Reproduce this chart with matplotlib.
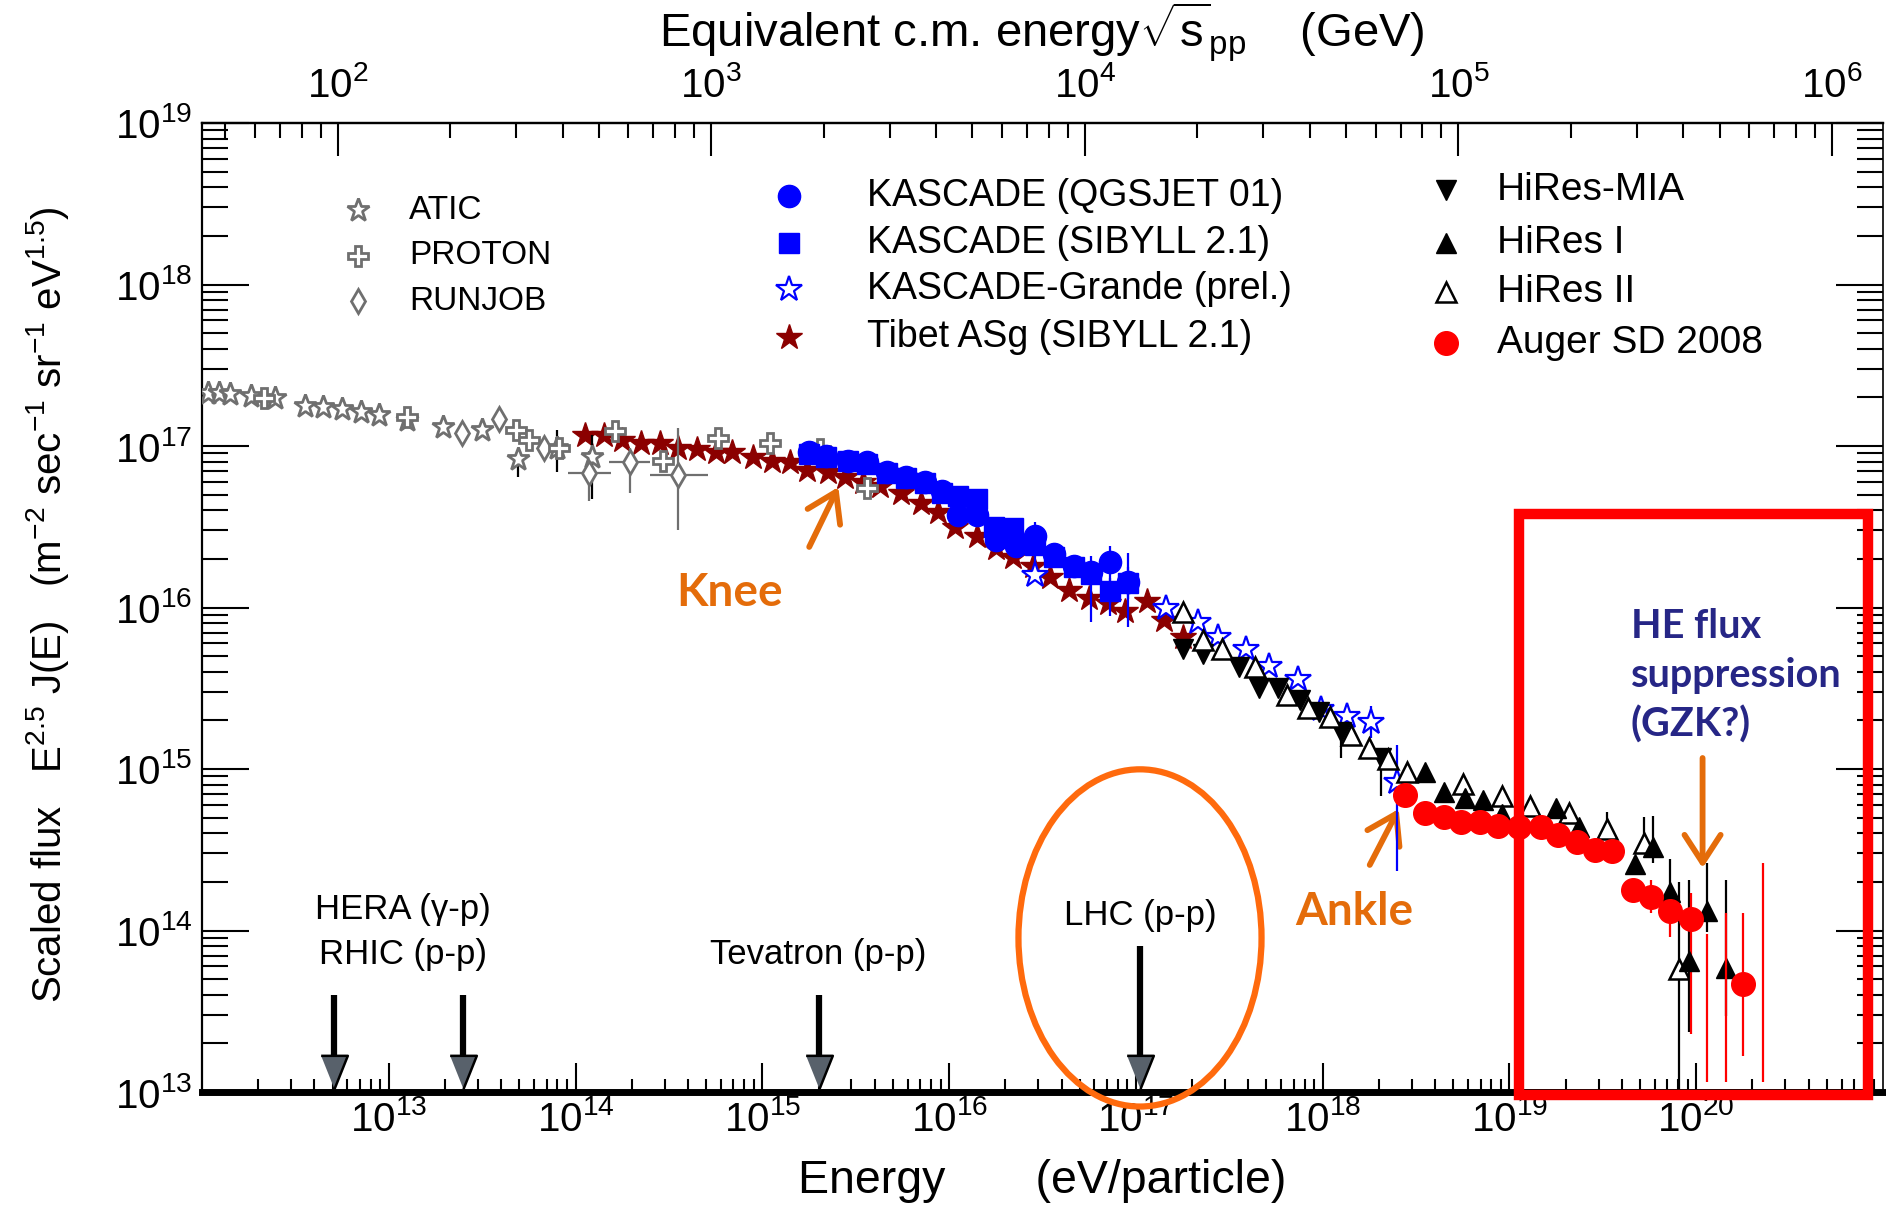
import numpy as np
import matplotlib
matplotlib.use("Agg")
import matplotlib.pyplot as plt
from matplotlib.patches import Ellipse, Rectangle
from matplotlib.ticker import NullFormatter, FixedLocator

plt.rcParams['font.family'] = ['Liberation Sans', 'DejaVu Sans']
plt.rcParams['mathtext.fontset'] = 'custom'
plt.rcParams['mathtext.rm'] = 'Liberation Sans'
plt.rcParams['mathtext.it'] = 'Liberation Sans:italic'
plt.rcParams['mathtext.bf'] = 'Liberation Sans:bold'
plt.rcParams['mathtext.default'] = 'regular'

# ---- values: log10(E / eV) and log10(E^2.5 J(E)) ----
atic_logE = [12.03, 12.09, 12.15, 12.26, 12.39, 12.55, 12.65, 12.75, 12.85, 12.95, 13.10, 13.29, 13.50, 13.69, 13.90, 14.09]
atic_logF = [17.33, 17.33, 17.32, 17.31, 17.30, 17.25, 17.24, 17.23, 17.21, 17.19, 17.16, 17.12, 17.10, 16.92, 16.99, 16.93]
atic_elo = [0] * 12 + [0.03, 0.11, 0.15, 0.26]
atic_ehi = [0] * 12 + [0.03, 0.00, 0.11, 0.14]

proton_logE = [12.33, 13.10, 13.68, 13.75, 13.91, 14.21, 14.47, 14.76, 15.04, 15.31, 15.56]
proton_logF = [17.30, 17.18, 17.10, 17.04, 16.99, 17.09, 16.91, 17.05, 17.02, 16.98, 16.74]

runjob_logE = [13.39, 13.59, 13.83, 14.07, 14.29, 14.55]
runjob_logF = [17.08, 17.17, 16.99, 16.83, 16.90, 16.82]
runjob_elo = [0, 0, 0.06, 0.17, 0.19, 0.34]
runjob_ehi = [0, 0, 0.05, 0.14, 0.09, 0.29]
runjob_xlo = [0, 0, 0, 0.11, 0.11, 0.15]
runjob_xhi = [0, 0, 0, 0.12, 0.11, 0.16]

tibet_logE = [14.05, 14.15, 14.25, 14.35, 14.45, 14.55, 14.65, 14.75, 14.84, 14.95, 15.05,
              15.15, 15.24, 15.35, 15.44, 15.54, 15.63, 15.74, 15.85, 15.94, 16.03, 16.15,
              16.25, 16.34, 16.45, 16.54, 16.64, 16.75, 16.85, 16.94, 17.06, 17.15, 17.25]
tibet_logF = [17.07, 17.07, 17.04, 17.02, 17.02, 16.99, 16.98, 16.96, 16.96, 16.93, 16.91,
              16.90, 16.85, 16.84, 16.81, 16.78, 16.75, 16.71, 16.65, 16.59, 16.50, 16.44,
              16.37, 16.31, 16.26, 16.19, 16.11, 16.06, 16.03, 15.98, 16.04, 15.92, 15.82]

kq_logE = [15.25, 15.34, 15.46, 15.56, 15.67, 15.77, 15.87, 15.96, 16.05, 16.15, 16.25, 16.36,
           16.46, 16.56, 16.67, 16.76, 16.86, 16.96]
kq_logF = [16.96, 16.94, 16.91, 16.90, 16.84, 16.81, 16.78, 16.72, 16.57, 16.57, 16.42, 16.38,
           16.44, 16.33, 16.26, 16.22, 16.28, 16.16]
kq_elo = [0.02] * 12 + [0.20, 0.05, 0.06, 0.31, 0.33, 0.28]
kq_ehi = [0.02] * 12 + [0.09, 0.05, 0.06, 0.10, 0.10, 0.18]

ks_logE = [15.25, 15.34, 15.46, 15.56, 15.67, 15.77, 15.87, 15.96, 16.05, 16.15, 16.24, 16.34,
           16.46, 16.56, 16.67, 16.76, 16.86, 16.96]
ks_logF = [16.95, 16.93, 16.91, 16.89, 16.83, 16.80, 16.77, 16.71, 16.69, 16.67, 16.50, 16.49,
           16.39, 16.31, 16.25, 16.21, 16.10, 16.15]
ks_elo = [0.02] * 13 + [0.04, 0.05, 0.06, 0.08, 0.10]
ks_ehi = [0.02] * 13 + [0.04, 0.05, 0.06, 0.08, 0.10]

kg_logE = [16.46, 17.16, 17.33, 17.44, 17.59, 17.71, 17.87, 17.99, 18.13, 18.26, 18.40]
kg_logF = [16.20, 16.00, 15.91, 15.82, 15.74, 15.64, 15.56, 15.37, 15.33, 15.29, 14.92]
kg_elo = [0.03] * 9 + [0.10, 0.55]
kg_ehi = [0.03] * 9 + [0.10, 0.23]

mia_logE = [17.25, 17.36, 17.55, 17.66, 17.76, 17.88, 17.98, 18.10, 18.31]
mia_logF = [15.74, 15.71, 15.63, 15.50, 15.50, 15.43, 15.35, 15.23, 15.07]
mia_elo = [0.03] * 7 + [0.16, 0.24]
mia_ehi = [0.03] * 7 + [0.03, 0.04]

h1_logE = [18.55, 18.65, 18.76, 18.86, 18.96, 19.25, 19.37, 19.67, 19.77, 19.86, 19.96, 20.06, 20.16]
h1_logF = [14.98, 14.86, 14.82, 14.81, 14.72, 14.76, 14.64, 14.41, 14.52, 14.24, 13.81, 14.12, 13.77]
h1_elo = [0.02] * 7 + [0.05, 0.10, 0.10, 0.44, 0.13, 0.30]
h1_ehi = [0.02] * 7 + [0.05, 0.19, 0.20, 0.50, 0.30, 0.54]

h2_logE = [17.25, 17.36, 17.46, 17.64, 17.81, 17.92, 18.04, 18.15, 18.25, 18.35, 18.45, 18.75,
           18.96, 19.11, 19.32, 19.52, 19.72, 19.91]
h2_logF = [15.97, 15.80, 15.74, 15.63, 15.46, 15.38, 15.32, 15.21, 15.13, 15.06, 14.98, 14.91,
           14.83, 14.77, 14.73, 14.63, 14.54, 13.76]
h2_elo = [0.02] * 15 + [0.07, 0.06, 0.80]
h2_ehi = [0.02] * 15 + [0.105, 0.16, 0.54]

auger_logE = [18.44, 18.55, 18.65, 18.74, 18.84, 18.94, 19.05, 19.17, 19.26, 19.36, 19.46, 19.55,
              19.66, 19.76, 19.86, 19.97, 20.25]
auger_logF = [14.84, 14.73, 14.70, 14.67, 14.67, 14.65, 14.64, 14.64, 14.59, 14.55, 14.50, 14.49,
              14.25, 14.21, 14.12, 14.07, 13.67]
auger_elo = [0] * 12 + [0.05, 0.10, 0.16, 0.71, 0.45]
auger_ehi = [0] * 12 + [0.05, 0.10, 0.07, 0.16, 0.44]
# Auger bins with error bars only
auger_bar_logE = [20.06, 20.16, 20.36]
auger_bar_lo = [13.06, 13.06, 13.06]
auger_bar_hi = [13.98, 14.11, 14.42]

acc_names = ['HERA (γ-p)', 'RHIC (p-p)', 'Tevatron (p-p)', 'LHC (p-p)']
acc_E = [5.1e12, 2.5e13, 2.0e15, 1.05e17]

M_P = 0.938e9  # proton mass, eV

fig = plt.figure(figsize=(18.86, 12.05), dpi=100)
ax = fig.add_axes([202 / 1886, 113 / 1205, 1681 / 1886, 969 / 1205])
ax.set_xscale('log')
ax.set_yscale('log')
ax.set_xlim(1e12, 1e21)
ax.set_ylim(1e13, 1e19)


def series(logE, logF, style, elo=None, ehi=None, xlo=None, xhi=None, ecolor='k', z=3):
    E = 10 ** np.asarray(logE, float)
    F = 10 ** np.asarray(logF, float)
    if elo is not None:
        yerr = [F - F / 10 ** np.asarray(elo), F * 10 ** np.asarray(ehi) - F]
        xerr = None
        if xlo is not None:
            xerr = [E - E / 10 ** np.asarray(xlo), E * 10 ** np.asarray(xhi) - E]
        ax.errorbar(E, F, yerr=yerr, xerr=xerr, fmt='none', ecolor=ecolor,
                    elinewidth=1.6, capsize=0, zorder=z - 0.1)
    ax.plot(E, F, ls='none', zorder=z, **style)


gray = '#6F6F6F'
dred = '#8B0000'
atic_st = dict(marker='*', ms=17, mfc='white', mec=gray, mew=2)
proton_st = dict(marker='P', ms=15, mfc='white', mec=gray, mew=2)
runjob_st = dict(marker='d', ms=12, mfc='white', mec=gray, mew=2)
tibet_st = dict(marker='*', ms=19, color=dred, mec=dred)
kq_st = dict(marker='o', ms=16, color='blue', mec='blue')
ks_st = dict(marker='s', ms=14, color='blue', mec='blue')
kg_st = dict(marker='*', ms=19, mfc='white', mec='blue', mew=1.6)
mia_st = dict(marker='v', ms=14, color='black')
h1_st = dict(marker='^', ms=14, color='black')
h2_st = dict(marker='^', ms=14, mfc='white', mec='black', mew=1.8)
auger_st = dict(marker='o', ms=17, color='red', mec='red')

series(tibet_logE, tibet_logF, tibet_st, z=3)
series(atic_logE, atic_logF, atic_st, atic_elo, atic_ehi, z=3.2)
series(runjob_logE, runjob_logF, runjob_st, runjob_elo, runjob_ehi, runjob_xlo, runjob_xhi, ecolor=gray, z=3.3)
series(proton_logE, proton_logF, proton_st, z=3.4)
series(kq_logE, kq_logF, kq_st, kq_elo, kq_ehi, ecolor='blue', z=3.5)
series(ks_logE, ks_logF, ks_st, ks_elo, ks_ehi, ecolor='blue', z=3.6)
series(kg_logE, kg_logF, kg_st, kg_elo, kg_ehi, ecolor='blue', z=3.7)
series(mia_logE, mia_logF, mia_st, mia_elo, mia_ehi, z=3.8)
series(h2_logE, h2_logF, h2_st, h2_elo, h2_ehi, z=3.9)
series(h1_logE, h1_logF, h1_st, h1_elo, h1_ehi, z=4.0)
ax.vlines(10 ** np.array(auger_bar_logE), 10 ** np.array(auger_bar_lo), 10 ** np.array(auger_bar_hi),
          color='red', lw=1.6, zorder=4.05)
series(auger_logE, auger_logF, auger_st, auger_elo, auger_ehi, ecolor='red', z=4.1)

# legend, drawn by hand in three columns
legend_cols = [
    (0.0928, 0.1231, 24, [('ATIC', atic_st, 0.910), ('PROTON', proton_st, 0.863),
                          ('RUNJOB', runjob_st, 0.816)]),
    (0.3492, 0.3956, 27, [('KASCADE (QGSJET 01)', kq_st, 0.9247), ('KASCADE (SIBYLL 2.1)', ks_st, 0.8762),
                          ('KASCADE-Grande (prel.)', kg_st, 0.8287), ('Tibet ASg (SIBYLL 2.1)', tibet_st, 0.7792)]),
    (0.7400, 0.7704, 28, [('HiRes-MIA', mia_st, 0.9309), ('HiRes I', h1_st, 0.8762),
                          ('HiRes II', h2_st, 0.8256), ('Auger SD 2008', auger_st, 0.7730)]),
]
for mx, tx, fs, rows in legend_cols:
    for label, st, y in rows:
        ax.plot([mx], [y], transform=ax.transAxes, ls='none', clip_on=False, zorder=5, **st)
        ax.text(tx, y, label, transform=ax.transAxes, fontsize=fs, ha='left', va='center')

# accelerator arrows
head = [(-0.4, 0.5), (0.4, 0.5), (0.0, -0.5)]
for name, E in zip(acc_names, acc_E):
    top = 10 ** 13.904 if name.startswith('LHC') else 10 ** 13.60
    ax.vlines(E, 10 ** 13.2, top, color='k', lw=4.5, zorder=6)
    ax.plot([E], [10 ** 13.124], marker=head, ms=24, mfc='#58616B', mec='k', mew=1.8,
            ls='none', zorder=7, clip_on=False)
ax.text(10 ** 13.077, 10 ** 14.127, acc_names[0], ha='center', va='center', fontsize=25)
ax.text(10 ** 13.077, 10 ** 13.854, acc_names[1], ha='center', va='center', fontsize=25)
ax.text(acc_E[2], 10 ** 13.854, acc_names[2], ha='center', va='center', fontsize=25)
ax.text(acc_E[3], 10 ** 14.09, acc_names[3], ha='center', va='center', fontsize=25)

# annotations
orange = '#E46C0A'
aprops = dict(arrowstyle='->,head_length=1.0,head_width=0.65', color=orange, lw=4.2,
              mutation_scale=20, shrinkA=0, shrinkB=0, capstyle='round', joinstyle='round')
ax.annotate('', xy=(10 ** 15.407, 10 ** 16.746), xytext=(10 ** 15.251, 10 ** 16.375), arrowprops=aprops)
ax.annotate('', xy=(10 ** 18.407, 10 ** 14.752), xytext=(10 ** 18.252, 10 ** 14.406), arrowprops=aprops)
ax.annotate('', xy=(10 ** 20.034, 10 ** 14.387), xytext=(10 ** 20.034, 10 ** 15.068), arrowprops=aprops)
ax.text(10 ** 14.823, 10 ** 16.09, 'Knee', color=orange, fontsize=33, fontweight='bold',
        family='Lato', ha='center', va='center')
ax.text(10 ** 18.17, 10 ** 14.115, 'Ankle', color=orange, fontsize=33, fontweight='bold',
        family='Lato', ha='center', va='center')
ax.text(10 ** 19.649, 10 ** 16.0, 'HE flux\nsuppression\n(GZK?)', color='#262686', fontsize=28.5,
        fontweight='bold', family='Lato', ha='left', va='top', linespacing=1.4)

ax.add_patch(Ellipse((0.558, 0.159), 0.1446, 0.348, transform=ax.transAxes, fill=False,
                     ec='#FF6A0D', lw=4.5, clip_on=False, zorder=8))
ax.add_patch(Rectangle((10 ** 19.049, 10 ** 12.98), 10 ** 20.918 - 10 ** 19.049, 10 ** 16.58 - 10 ** 12.98,
                       fill=False, ec='red', lw=7.5, clip_on=False, zorder=10))

# axes styling
for side, lw in [('left', 1.6), ('top', 1.6), ('right', 1.2), ('bottom', 5)]:
    ax.spines[side].set_linewidth(lw)
ax.xaxis.set_major_locator(FixedLocator([10.0 ** k for k in range(13, 21)]))
ax.xaxis.set_minor_locator(FixedLocator([m * 10.0 ** k for k in range(12, 21) for m in range(2, 10)]))
ax.xaxis.set_minor_formatter(NullFormatter())
ax.yaxis.set_major_locator(FixedLocator([10.0 ** k for k in range(13, 20)]))
ax.yaxis.set_minor_locator(FixedLocator([m * 10.0 ** k for k in range(13, 19) for m in range(2, 10)]))
ax.yaxis.set_minor_formatter(NullFormatter())
ax.tick_params(axis='x', which='both', direction='in', top=False, bottom=True, width=1.5, labelsize=29, pad=6)
ax.tick_params(axis='x', which='major', length=21)
ax.tick_params(axis='x', which='minor', length=9.5)
ax.tick_params(axis='y', which='both', direction='in', left=True, right=True, width=1.5, labelsize=29, pad=7)
ax.tick_params(axis='y', which='major', length=34)
ax.tick_params(axis='y', which='minor', length=19)

secax = ax.secondary_xaxis('top', functions=(lambda E: np.sqrt(2 * M_P * np.abs(E)) / 1e9,
                                             lambda r: (np.asarray(r) * 1e9) ** 2 / (2 * M_P)))
secax.xaxis.set_major_locator(FixedLocator([10.0 ** k for k in range(2, 7)]))
secax.xaxis.set_minor_locator(FixedLocator([m * 10.0 ** k for k in range(1, 6) for m in range(2, 10)
                                            if 44 < m * 10.0 ** k < 1.4e6]))
secax.xaxis.set_minor_formatter(NullFormatter())
secax.tick_params(axis='x', which='both', direction='in', width=1.5, labelsize=29, pad=13)
secax.tick_params(axis='x', which='major', length=24)
secax.tick_params(axis='x', which='minor', length=11)
secax.spines['top'].set_linewidth(1.6)

fig.text(1042 / 1886, 1 - 48 / 1205, r'Equivalent c.m. energy$\sqrt{\mathrm{s}}_{\mathrm{pp}}$    (GeV)',
         fontsize=34, ha='center', va='baseline')
fig.text(1042 / 1886, 1 - 1193 / 1205, 'Energy       (eV/particle)', fontsize=33.5, ha='center', va='baseline')
fig.text(48 / 1886, 1 - 605 / 1205,
         r'Scaled flux   E$^{2.5}$ J(E)   (m$^{-2}$ sec$^{-1}$ sr$^{-1}$ eV$^{1.5}$)',
         fontsize=29, rotation=90, ha='center', va='center')

fig.savefig('out.png', dpi=100)
